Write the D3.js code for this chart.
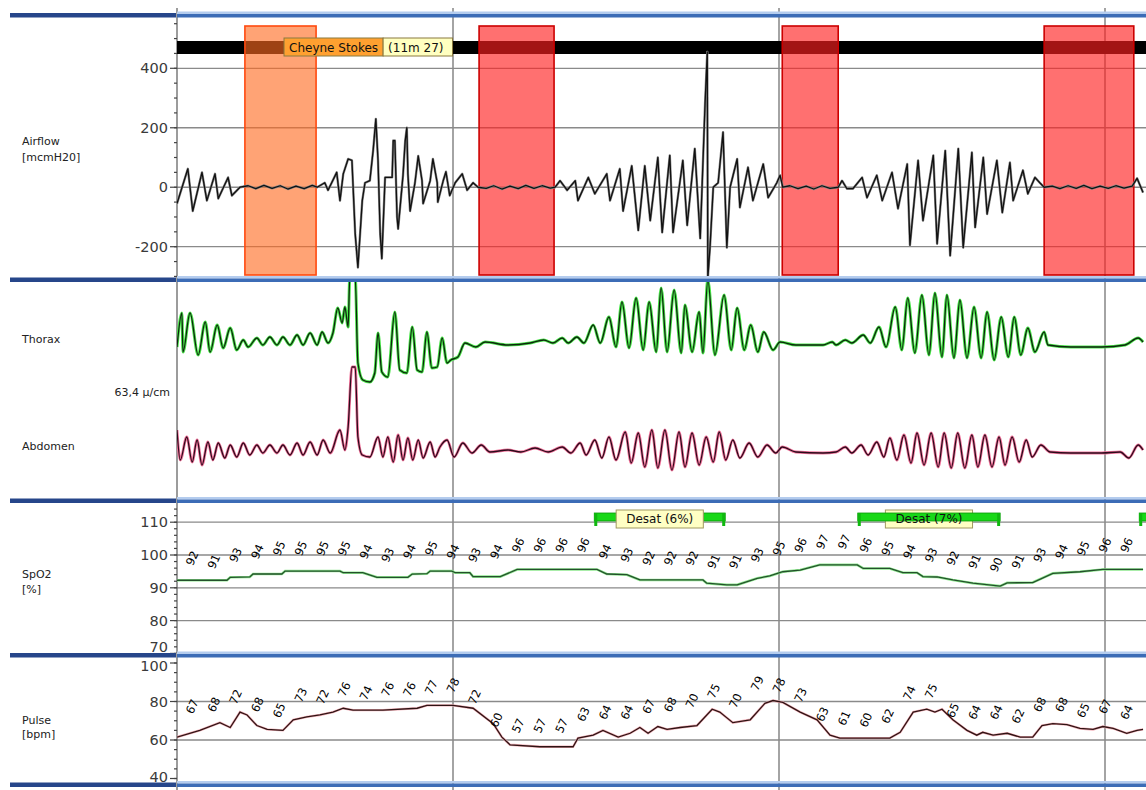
<!DOCTYPE html>
<html><head><meta charset="utf-8">
<script src="https://cdn.jsdelivr.net/npm/d3@7"></script>
<style>body{margin:0;background:#fff;}svg{display:block;font-family:"DejaVu Sans",sans-serif;}</style>
</head><body><svg id="c" width="1146" height="790"></svg>
<script>
// ---------------- DATA (time in seconds, values in channel units) ----------------
const epochLines = [60, 120, 180];
const airflowTicks = [-200, 0, 200, 400];
const spo2Ticks = [70, 80, 90, 100, 110];
const pulseTicks = [40, 60, 80, 100];
const channelLabels = ["Airflow", "[mcmH20]", "Thorax", "63,4 µ/cm", "Abdomen", "SpO2", "[%]", "Pulse", "[bpm]"];

const apneaEvents = [
  {start: 21.7, end: 34.8, type: "hypopnea"},
  {start: 64.8, end: 78.6, type: "apnea"},
  {start: 120.6, end: 130.9, type: "apnea"},
  {start: 168.8, end: 185.3, type: "apnea"}
];
const cheyneStokes = {start: 0, end: 200, labelAt: 28.9, parts: ["Cheyne Stokes", "(11m 27)"]};
const desatEvents = [
  {start: 86.0, end: 110.1, label: "Desat (6%)"},
  {start: 134.5, end: 160.7, label: "Desat (7%)"},
  {start: 186.3, end: 200, label: ""}
];

const airflow = [
[9.2,-55],[11.2,62],[12.1,-80],[13.8,50],[14.7,-45],[16.2,45],[16.8,-38],[18.6,33],[19.3,-28],[20.8,0],
[22.3,5],[23.7,-5],[25.2,6],[26.7,-4],[28.2,5],[29.6,-6],[31.1,4],[32.6,-5],[34.1,6],
[35.0,0],[36.4,15],[37.0,-10],[38.6,50],[39.2,-45],[39.8,45],[40.7,95],[41.4,90],[42.0,-157],[42.5,-270],[43.3,-45],[43.8,15],[44.7,22],[45.3,123],[45.8,230],[46.2,90],[46.6,-157],[46.9,-240],[47.5,33],[48.8,33],[49.0,157],[49.3,157],[49.7,-100],[49.9,-140],[50.8,40],[51.2,155],[51.5,200],[51.7,45],[52.1,-80],[53.0,15],[53.6,105],[54.3,22],[54.5,-55],[55.8,22],[56.3,95],[57.1,15],[57.2,-50],[58.2,22],[58.7,52],[59.4,-28],[60.4,15],[61.7,45],[62.6,-10],[63.7,15],[64.6,0],
[66.1,-4],[67.5,5],[69.0,-6],[70.5,4],[72.0,-5],[73.4,6],[74.9,-4],[76.4,5],[77.9,-3],
[78.8,0],[79.7,22],[81.0,-10],[82.5,22],[83.0,-45],[84.9,33],[86.1,-22],[88.3,45],[88.9,-45],[90.7,62],[91.3,-80],[92.9,72],[94.1,-145],[95.3,72],[96.3,-112],[97.7,100],[98.5,-152],[99.9,107],[100.5,-152],[102.3,90],[103.1,-128],[104.5,130],[105.5,-172],[106.4,285],[106.8,455],[106.9,-305],[107.3,-203],[107.9,0],[108.8,15],[109.7,185],[110.4,-203],[111.0,0],[112.3,95],[112.8,-68],[114.3,67],[115.2,-45],[117.1,78],[118.0,-35],[119.6,15],[120.2,40],[120.7,0],
[122.0,5],[123.5,-5],[125.0,4],[126.4,-6],[127.9,5],[129.4,-4],
[130.9,0],[131.6,22],[132.5,-5],[133.6,-5],[135.3,33],[136.2,-35],[138.0,40],[139.0,-45],[140.8,50],[141.9,-72],[143.6,78],[144.1,-195],[145.6,90],[146.5,-112],[148.4,107],[149.1,-190],[150.6,123],[151.5,-230],[153.0,130],[153.9,-203],[155.5,117],[156.1,-135],[157.6,100],[158.3,-90],[160.1,90],[161.1,-85],[162.5,83],[163.1,-45],[164.9,57],[165.8,-22],[167.1,33],[168.0,15],[168.8,0],
[170.3,4],[171.7,-5],[173.2,5],[174.7,-4],[176.1,6],[177.6,-5],[179.1,4],[180.6,-4],[182.0,5],[183.5,-3],[185.0,4],[185.9,30],[187.0,-18]
];

const thorax = [
[9.2,-4],[10.1,64],[10.3,-14],[11.6,64],[13.1,-20],[14.4,46],[15.3,-14],[16.6,40],[17.7,-6],[19.0,34],[20.2,-10],[21.4,10],[22.3,-4],[23.9,14],[25.0,0],[26.3,16],[27.6,0],[28.7,16],[30.0,0],[31.3,20],[32.4,0],[33.7,24],[35.0,0],[35.9,26],[37.0,4],[37.9,24],[38.8,74],[39.6,44],[40.1,76],[40.7,36],[41.0,135],[42.0,135],[42.5,-36],[43.4,-70],[44.7,-74],[45.6,-56],[46.2,24],[46.9,-54],[48.0,-64],[49.3,66],[50.2,-50],[51.5,-56],[52.5,36],[53.4,-50],[54.3,-54],[55.2,26],[56.1,-46],[57.1,-44],[58.0,14],[58.9,-36],[59.6,-30],[60.9,-24],[62.2,4],[64.2,-4],[65.9,6],[70.1,0],[74.2,4],[76.7,10],[78.4,4],[80.1,14],[81.2,4],[82.8,16],[84.1,4],[85.8,40],[87.1,4],[88.7,56],[90.0,-4],[91.1,86],[92.4,-6],[93.7,94],[95.0,-10],[96.1,86],[97.4,-14],[98.3,114],[99.4,-14],[100.7,110],[102.0,-16],[102.7,80],[104.0,-14],[105.3,66],[106.0,-16],[106.9,130],[108.2,-20],[109.9,100],[111.2,-10],[112.3,74],[113.6,-10],[114.8,40],[116.1,-14],[117.2,26],[118.9,-10],[120.2,6],[123.1,0],[128.1,0],[129.8,6],[130.5,0],[132.2,10],[133.4,4],[135.5,20],[136.8,4],[138.4,36],[139.7,-4],[141.4,76],[142.6,-10],[143.7,94],[145.0,-16],[146.3,100],[147.6,-20],[148.7,104],[150.0,-24],[150.9,100],[152.2,-26],[153.3,90],[154.6,-26],[155.9,76],[157.2,-26],[158.3,66],[159.6,-30],[160.9,56],[162.2,-24],[163.3,56],[164.5,-20],[165.8,34],[167.1,-14],[168.8,26],[169.5,0],[173.7,-4],[179.4,-4],[183.7,0],[186.1,14],[187.0,6]
];

const abdomen = [
[9.2,44],[9.8,-16],[11.0,30],[12.0,-20],[12.9,24],[13.8,-26],[14.9,20],[15.8,-16],[16.8,18],[18.0,-12],[19.0,14],[20.2,-10],[21.4,18],[22.6,-6],[23.9,14],[25.0,-2],[26.3,14],[27.6,-2],[28.7,14],[30.0,-6],[31.3,18],[32.4,-6],[33.7,20],[35.0,-6],[36.1,24],[37.4,-2],[39.2,44],[40.1,4],[40.7,50],[41.4,170],[42.0,170],[42.5,30],[43.3,-6],[44.7,-10],[46.2,30],[47.1,-10],[48.0,30],[49.0,-20],[49.9,34],[50.8,-16],[51.7,28],[52.6,-16],[53.6,24],[54.5,-12],[55.8,20],[56.7,-10],[57.6,10],[58.9,24],[60.2,-10],[61.8,18],[63.5,-2],[65.2,14],[66.8,0],[70.1,4],[72.5,0],[75.1,8],[77.5,0],[80.1,10],[81.7,-2],[83.4,18],[84.5,-6],[86.1,24],[87.4,-12],[88.7,30],[90.0,-16],[91.7,40],[92.8,-22],[94.1,38],[95.3,-30],[96.6,44],[97.7,-32],[99.0,44],[100.3,-36],[101.6,40],[102.7,-30],[104.0,38],[105.3,-26],[106.6,30],[107.9,-20],[109.0,40],[110.2,-16],[111.5,24],[112.8,-12],[114.5,18],[116.1,-10],[117.8,14],[119.4,-2],[120.6,10],[123.1,0],[128.1,-2],[130.5,0],[132.2,10],[133.4,-2],[135.1,14],[136.4,-6],[138.0,20],[139.3,-10],[140.4,28],[141.7,-16],[143.0,34],[144.3,-22],[145.4,38],[146.7,-26],[148.0,38],[149.3,-30],[150.4,38],[151.7,-32],[152.9,38],[154.2,-32],[155.5,34],[156.6,-30],[157.9,34],[159.2,-30],[160.5,30],[161.6,-26],[162.9,30],[164.2,-20],[165.5,24],[166.6,-10],[168.2,14],[169.9,0],[173.7,-2],[179.4,-2],[182.8,0],[184.4,-12],[186.1,14],[187.0,4]
];

const spo2Line = [
[9.2,92.3],[18.4,92.3],[19.0,93.2],[22.6,93.3],[23.2,94.2],[28.5,94.2],[29.1,95.1],[39.2,95.1],[39.8,94.6],[43.4,94.6],[46.0,93.2],[51.7,93.2],[52.5,94.2],[55.2,94.3],[55.8,95.1],[59.8,95.1],[60.4,94.6],[63.1,94.6],[63.7,93.4],[68.7,93.4],[71.8,95.6],[86.5,95.6],[88.3,94.2],[92.0,94.0],[94.4,92.4],[106.0,92.4],[106.7,91.4],[110.4,90.9],[112.3,90.9],[116.0,92.9],[118.3,93.6],[120.7,94.9],[123.9,95.4],[127.5,97.0],[134.4,97.0],[135.5,95.9],[140.4,95.9],[142.8,94.6],[145.4,94.6],[146.5,93.4],[149.1,93.3],[152.0,92.4],[155.7,91.4],[160.7,90.5],[162.0,91.5],[166.7,91.6],[170.4,94.4],[175.4,94.9],[179.6,95.6],[187.0,95.6]
];

const labelTimes = [12,16,20,24,28,32,36,40,44,48,52,56,60,64,68,72,76,80,84,88,92,96,100,104,108,112,116,120,124,128,132,136,140,144,148,152,156,160,164,168,172,176,180,184];
const spo2Labels = [92,91,93,94,95,95,95,95,94,93,94,95,94,93,94,96,96,96,96,94,93,92,92,92,91,91,93,95,96,97,97,96,95,94,93,92,91,90,91,93,94,95,96,96];
const pulseLabels = [67,68,72,68,65,73,72,76,74,76,76,77,78,72,60,57,57,57,63,64,64,67,68,70,75,70,79,78,73,63,61,60,62,74,75,65,64,64,62,68,68,65,67,64];

const pulseLine = [
[9.2,61.5],[13.4,65],[17.1,69],[19.0,66.5],[20.8,74.5],[22.1,73],[23.9,67.5],[25.8,65.5],[28.7,65],[30.6,70.5],[33.1,72],[35.5,73],[37.9,74.5],[39.8,76.5],[41.6,75.5],[47.1,75.5],[53.4,76.5],[55.2,78],[60,78],[63.7,76.5],[67.4,68.5],[69.0,61.5],[70.5,57.5],[76.0,56.5],[82.1,56.5],[83.0,61],[85.8,62.5],[87.6,65],[90.4,61.5],[92.6,63.5],[94.4,66.5],[95.9,63.5],[97.7,67],[99.4,65.5],[101.8,66.5],[104.9,67.5],[107.7,76],[109.1,74.5],[111.5,69],[114.7,70.5],[117.4,79],[118.9,80.5],[120.7,79.5],[123.9,74.5],[127.0,70.5],[129.4,62.5],[131.2,61],[140.4,61],[142.3,64],[144.7,74.5],[147.2,76],[148.7,74.5],[150.0,76],[152.0,70.5],[154.6,65],[156.4,62.5],[157.5,64],[159.4,62.5],[162.0,63.5],[164.4,61.5],[166.7,61.5],[168.4,67.5],[170.4,68.5],[173.0,68],[175.4,66],[177.8,65.5],[179.6,67],[181.5,66],[184.0,63.5],[185.9,65],[187.0,65.5]
];

// ---------------- LAYOUT ----------------
const X0 = 177, X1 = 1146;
const P = {
  air: [18, 278], resp: [282, 499], spo2: [503, 653], pulse: [657, 783]
};
const svg = d3.select("#c");
const defs = svg.append("defs");
function clip(id, y0, y1, x0 = X0, x1 = X1) {
  defs.append("clipPath").attr("id", id).append("rect")
    .attr("x", x0).attr("y", y0).attr("width", x1 - x0).attr("height", y1 - y0);
}
clip("cAir", P.air[0], P.air[1]);
clip("cResp", P.resp[0], P.resp[1]);
clip("cSpo", P.spo2[0], P.spo2[1]);
clip("cPul", P.pulse[0], P.pulse[1]);
clip("aAir", P.air[0], P.air[1], 90, 178);
clip("aSpo", P.spo2[0], P.spo2[1], 90, 178);
clip("aPul", P.pulse[0], P.pulse[1], 90, 178);

const x = d3.scaleLinear().domain([60, 120]).range([453, 779]);
const yAir = d3.scaleLinear().domain([-200, 400]).range([246.7, 68.3]);
const yTho = d3.scaleLinear().domain([-100, 100]).range([395, 295]);
const yAbd = d3.scaleLinear().domain([-100, 100]).range([502, 402]);
const ySpo = d3.scaleLinear().domain([80, 110]).range([620.6, 522.2]);
const yPul = d3.scaleLinear().domain([60, 80]).range([740, 701.5]);

// epoch lines
svg.append("g").selectAll("line").data(epochLines).join("line")
  .attr("x1", d => x(d)).attr("x2", d => x(d)).attr("y1", 8).attr("y2", 790)
  .attr("stroke", "#a4a4a4").attr("stroke-width", 2);

// horizontal grids
function hgrid(vals, y, clipId) {
  svg.append("g").attr("clip-path", `url(#${clipId})`).selectAll("line").data(vals).join("line")
    .attr("x1", X0).attr("x2", X1).attr("y1", d => y(d)).attr("y2", d => y(d))
    .attr("stroke", "#8a8a8a").attr("stroke-width", 1.3);
}
hgrid(airflowTicks, yAir, "cAir");
hgrid([80, 90, 100, 110], ySpo, "cSpo");
hgrid([60, 80], yPul, "cPul");

// axis line
svg.append("line").attr("x1", X0).attr("x2", X0).attr("y1", 8).attr("y2", 790)
  .attr("stroke", "#5a5a5a").attr("stroke-width", 1.2);

function axis(y, majors, minors, clipId, panel) {
  const g = svg.append("g").attr("clip-path", `url(#${clipId})`);
  g.selectAll("line.mi").data(minors).join("line").attr("class", "mi")
    .attr("x1", X0 - 3).attr("x2", X0).attr("y1", d => y(d)).attr("y2", d => y(d))
    .attr("stroke", "#444").attr("stroke-width", 1.2);
  g.selectAll("line.ma").data(majors).join("line").attr("class", "ma")
    .attr("x1", X0 - 7).attr("x2", X0).attr("y1", d => y(d)).attr("y2", d => y(d))
    .attr("stroke", "#444").attr("stroke-width", 1.2);
  // labels at the panel edges are partly hidden by the panel borders, as in the source
  g.selectAll("text").data(majors).join("text")
    .attr("x", X0 - 9).attr("y", d => Math.max(panel[0] + 9, Math.min(panel[1] - 6, y(d))))
    .attr("text-anchor", "end")
    .attr("dominant-baseline", "central").attr("font-size", 14.5).attr("fill", "#3a3a3a")
    .text(d => String(d));
}
axis(yAir, airflowTicks, d3.range(-300, 600, 50), "aAir", P.air);
axis(ySpo, spo2Ticks, d3.range(70, 116, 2), "aSpo", P.spo2);
axis(yPul, pulseTicks, d3.range(40, 101, 5), "aPul", P.pulse);

// ---------------- AIRFLOW PANEL ----------------
const gAir = svg.append("g").attr("clip-path", "url(#cAir)");
gAir.append("rect").attr("x", Math.max(X0, x(cheyneStokes.start))).attr("y", 41)
  .attr("width", Math.min(X1, x(cheyneStokes.end)) - Math.max(X0, x(cheyneStokes.start))).attr("height", 13)
  .attr("fill", "#000");
gAir.selectAll("rect.ev").data(apneaEvents).join("rect").attr("class", "ev")
  .attr("x", d => x(d.start)).attr("width", d => x(d.end) - x(d.start))
  .attr("y", 26).attr("height", 249)
  .attr("fill", d => d.type === "hypopnea" ? "#ff6a20" : "#ff2020")
  .attr("fill-opacity", d => d.type === "hypopnea" ? 0.62 : 0.64)
  .attr("stroke", d => d.type === "hypopnea" ? "#ff4a10" : "#cc0000")
  .attr("stroke-width", 1.6);
gAir.append("path").datum(airflow)
  .attr("d", d3.line().x(d => x(d[0])).y(d => yAir(d[1])))
  .attr("fill", "none").attr("stroke", "#8a8a8a").attr("stroke-width", 2.4).attr("stroke-linejoin", "round");
gAir.append("path").datum(airflow)
  .attr("d", d3.line().x(d => x(d[0])).y(d => yAir(d[1])))
  .attr("fill", "none").attr("stroke", "#111").attr("stroke-width", 1.3).attr("stroke-linejoin", "round");

// Cheyne Stokes label
{
  const g = svg.append("g");
  let cx = x(cheyneStokes.labelAt);
  const fills = ["#ffa030", "#ffffc0"];
  cheyneStokes.parts.forEach((t, i) => {
    const txt = g.append("text").attr("x", cx + 5).attr("y", 47.5).attr("dominant-baseline", "central")
      .attr("font-size", 12).attr("fill", "#111").text(t);
    const w = txt.node().getComputedTextLength() + (i === 0 ? 10 : 14);
    g.insert("rect", "text").attr("x", cx).attr("y", 38).attr("width", w).attr("height", 18)
      .attr("fill", fills[i]).attr("stroke", "#8a7a40").attr("stroke-width", 1);
    cx += w;
  });
}

// ---------------- RESP PANEL ----------------
const gResp = svg.append("g").attr("clip-path", "url(#cResp)");
function glowLine(g, data, y, glow, core, gw) {
  const ln = d3.line().x(d => x(d[0])).y(d => y(d[1])).curve(d3.curveMonotoneX);
  g.append("path").datum(data).attr("d", ln).attr("fill", "none").attr("stroke", glow).attr("stroke-width", gw).attr("stroke-linejoin", "round");
  g.append("path").datum(data).attr("d", ln).attr("fill", "none").attr("stroke", core).attr("stroke-width", 1.3).attr("stroke-linejoin", "round");
}
glowLine(gResp, thorax, yTho, "#48e448", "#0e260e", 3);
glowLine(gResp, abdomen, yAbd, "#f07098", "#2c0c1c", 2.8);

// ---------------- SPO2 PANEL ----------------
const gSpo = svg.append("g").attr("clip-path", "url(#cSpo)");
{
  const ln = d3.line().x(d => x(d[0])).y(d => ySpo(d[1]));
  gSpo.append("path").datum(spo2Line).attr("d", ln).attr("fill", "none").attr("stroke", "#8ee88e").attr("stroke-width", 2.6);
  gSpo.append("path").datum(spo2Line).attr("d", ln).attr("fill", "none").attr("stroke", "#24502c").attr("stroke-width", 1.3);
}
svg.append("g").selectAll("text").data(spo2Labels.map((v, i) => [labelTimes[i], v])).join("text")
  .attr("transform", d => `translate(${x(d[0])},${ySpo(d[1]) - 23}) rotate(-65)`)
  .attr("text-anchor", "middle").attr("dominant-baseline", "central")
  .attr("font-size", 11.5).attr("fill", "#000").text(d => d[1]);

// desat events
{
  const g = svg.append("g").attr("clip-path", "url(#cSpo)");
  desatEvents.forEach(ev => {
    const xa = x(ev.start), xb = Math.min(x(ev.end), X1 + 20);
    g.append("rect").attr("x", xa).attr("y", 513).attr("width", xb - xa).attr("height", 8)
      .attr("fill", "#18d818").attr("stroke", "#0a9a0a").attr("stroke-width", 0.8);
    g.append("rect").attr("x", xa).attr("y", 513).attr("width", 3).attr("height", 13).attr("fill", "#0fb80f");
    g.append("rect").attr("x", xb - 3).attr("y", 513).attr("width", 3).attr("height", 13).attr("fill", "#0fb80f");
    if (ev.label) {
      const cx = (xa + xb) / 2;
      const txt = g.append("text").attr("x", cx).attr("y", 519).attr("text-anchor", "middle")
        .attr("dominant-baseline", "central").attr("font-size", 12).attr("fill", "#111").text(ev.label);
      const w = txt.node().getComputedTextLength() + 20;
      g.insert("rect", "text").attr("x", cx - w / 2).attr("y", 510).attr("width", w).attr("height", 18)
        .attr("fill", "#ffffc4").attr("stroke", "#a09a60").attr("stroke-width", 1);
    }
  });
}

// ---------------- PULSE PANEL ----------------
const gPul = svg.append("g").attr("clip-path", "url(#cPul)");
{
  const ln = d3.line().x(d => x(d[0])).y(d => yPul(d[1]));
  gPul.append("path").datum(pulseLine).attr("d", ln).attr("fill", "none").attr("stroke", "#f2b0b8").attr("stroke-width", 2.4);
  gPul.append("path").datum(pulseLine).attr("d", ln).attr("fill", "none").attr("stroke", "#2e1414").attr("stroke-width", 1.3);
}
svg.append("g").selectAll("text").data(pulseLabels.map((v, i) => [labelTimes[i], v])).join("text")
  .attr("transform", d => `translate(${x(d[0])},${yPul(d[1]) - 20}) rotate(-65)`)
  .attr("text-anchor", "middle").attr("dominant-baseline", "central")
  .attr("font-size", 11.5).attr("fill", "#000").text(d => d[1]);

// ---------------- SEPARATORS ----------------
const seps = [14, 278.5, 499.5, 654, 783.5];
const gs = svg.append("g");
seps.forEach(s => {
  gs.append("rect").attr("x", X0).attr("y", s - 2.5).attr("width", X1 - X0).attr("height", 2.5).attr("fill", "#b4ccee");
  gs.append("rect").attr("x", X0).attr("y", s).attr("width", X1 - X0).attr("height", 3.5).attr("fill", "#3c6cb6");
  gs.append("rect").attr("x", 10).attr("y", s - 1).attr("width", X0 - 11).attr("height", 4.5).attr("fill", "#26468a");
});

// ---------------- CHANNEL LABELS ----------------
const lab = [
  [channelLabels[0], 22, 141, "start"], [channelLabels[1], 22, 157, "start"],
  [channelLabels[2], 22, 339, "start"], [channelLabels[3], 170, 392, "end"],
  [channelLabels[4], 22, 446, "start"], [channelLabels[5], 22, 574, "start"],
  [channelLabels[6], 22, 589, "start"], [channelLabels[7], 22, 720, "start"],
  [channelLabels[8], 22, 734, "start"]
];
svg.append("g").selectAll("text").data(lab).join("text")
  .attr("x", d => d[1]).attr("y", d => d[2]).attr("text-anchor", d => d[3])
  .attr("dominant-baseline", "central").attr("font-size", 11).attr("fill", "#222")
  .text(d => d[0]);
</script></body></html>
